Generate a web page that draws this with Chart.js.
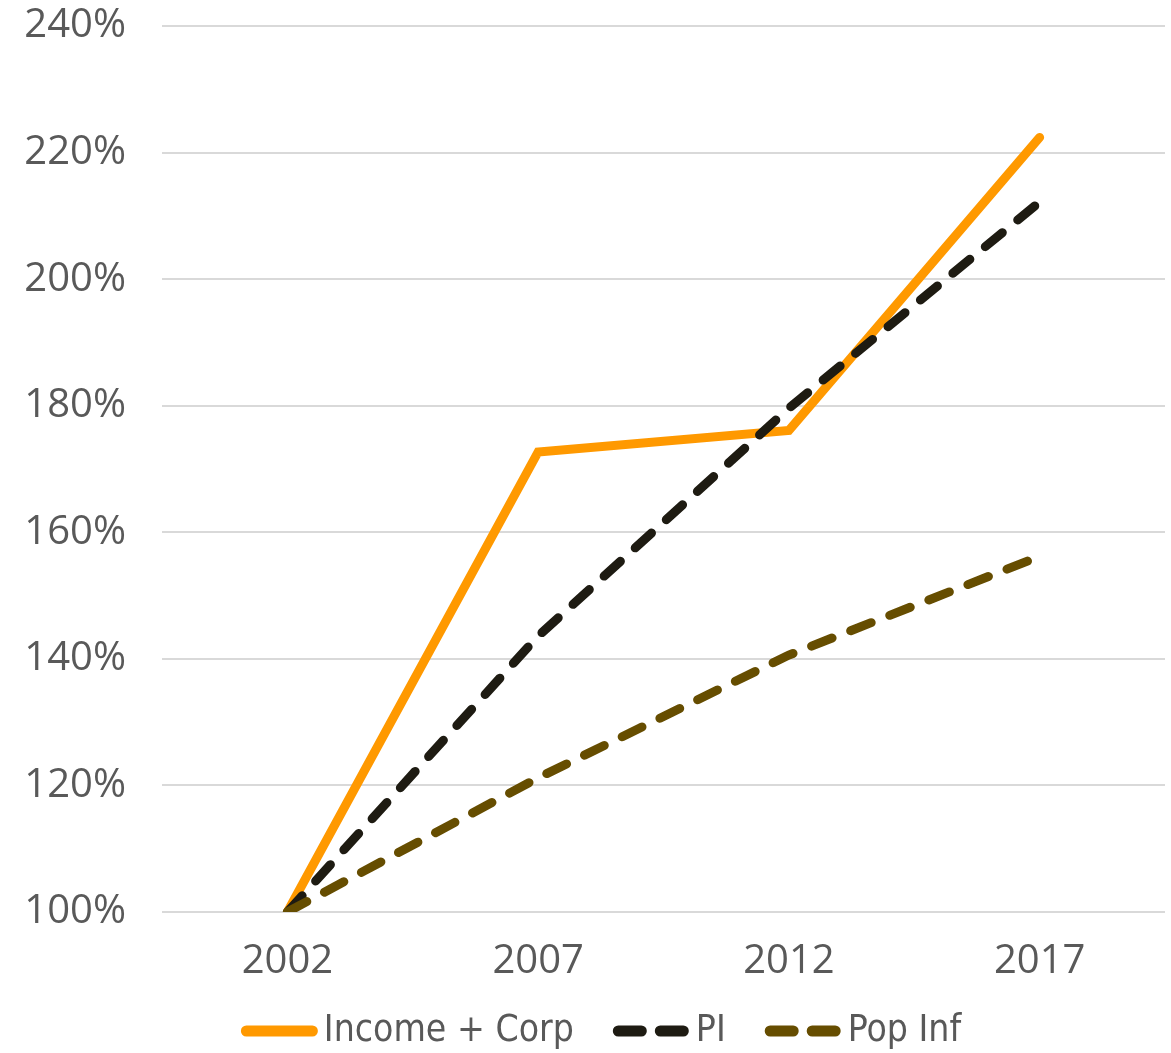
<!DOCTYPE html>
<html>
<head>
<meta charset="utf-8">
<style>
  html, body { margin: 0; padding: 0; background: #ffffff; }
  #wrap { width: 1171px; height: 1053px; position: relative; }
</style>
<script src="https://cdn.jsdelivr.net/npm/chart.js@4/dist/chart.umd.min.js"></script>
</head>
<body>
<div id="wrap"><canvas id="chart" width="1171" height="1053"></canvas></div>
<script>
// Growth indexed to 2002 = 100%
const years = ['2002', '2007', '2012', '2017'];
const incomeCorp = [100, 172.7, 176.1, 222.4];
const personalIncome = [100, 143.6, 179.6, 212.2];
const popInflation = [100, 121.2, 140.6, 156.2];
const yTicks = [100, 120, 140, 160, 180, 200, 220, 240];

const TEXT = '#595959';
const TICK_FONT = { family: "'Open Sans', 'DejaVu Sans', sans-serif", size: 40, lineHeight: 1.2 };
const LEGEND_FONT = "37px 'DejaVu Sans Condensed', 'Liberation Sans Narrow', sans-serif";

// Legend drawn below the axis: line sample directly followed by its label
const lineLegend = {
  id: 'lineLegend',
  afterDraw(chart) {
    const ctx = chart.ctx;
    const sample = 66, cap = 5.5, textGap = 6, itemGap = 39;
    ctx.save();
    ctx.font = LEGEND_FONT;
    const items = chart.data.datasets.map(ds => ({
      ds, w: sample + 2 * cap + textGap + ctx.measureText(ds.label).width
    }));
    const total = items.reduce((s, it) => s + it.w, 0) + itemGap * (items.length - 1);
    let x = 601 - total / 2;
    const y = 1031;
    items.forEach(({ ds, w }) => {
      ctx.beginPath();
      ctx.lineWidth = 11;
      ctx.lineCap = 'round';
      ctx.strokeStyle = ds.borderColor;
      ctx.setLineDash(ds.borderDash && ds.borderDash.length ? [23, 19] : []);
      ctx.moveTo(x + cap, y);
      ctx.lineTo(x + cap + sample, y);
      ctx.stroke();
      ctx.setLineDash([]);
      ctx.fillStyle = TEXT;
      ctx.textBaseline = 'middle';
      ctx.textAlign = 'left';
      ctx.fillText(ds.label, x + sample + 2 * cap + textGap, y);
      x += w + itemGap;
    });
    ctx.restore();
  }
};

new Chart(document.getElementById('chart'), {
  type: 'line',
  data: {
    labels: years,
    datasets: [
      {
        label: 'Income + Corp',
        data: incomeCorp,
        borderColor: '#FF9900',
        borderWidth: 9,
        borderCapStyle: 'round',
        borderJoinStyle: 'miter',
        pointRadius: 0,
        tension: 0,
        order: 3
      },
      {
        label: 'PI',
        data: personalIncome,
        borderColor: '#1E1B12',
        borderWidth: 9,
        borderDash: [22, 20],
        borderCapStyle: 'round',
        pointRadius: 0,
        tension: 0,
        order: 2
      },
      {
        label: 'Pop Inf',
        data: popInflation,
        borderColor: '#664D00',
        borderWidth: 9,
        borderDash: [22, 20],
        borderCapStyle: 'round',
        pointRadius: 0,
        tension: 0,
        order: 1
      }
    ]
  },
  options: {
    responsive: false,
    animation: false,
    devicePixelRatio: 1,
    layout: { padding: { top: 26, right: 6, bottom: 67, left: 0 } },
    plugins: {
      legend: { display: false },
      tooltip: { enabled: false }
    },
    scales: {
      x: {
        offset: true,
        afterFit(scale) { scale.height = 74; },
        grid: { display: false, drawTicks: false },
        border: { display: false },
        ticks: { color: TEXT, font: TICK_FONT, padding: 26, maxRotation: 0 }
      },
      y: {
        min: 100,
        max: 240,
        afterFit(scale) {
          scale.width = 162;
          scale.paddingTop = 0;
          scale.paddingBottom = 0;
        },
        afterBuildTicks(scale) { scale.ticks = yTicks.map(v => ({ value: v })); },
        grid: { color: '#D9D9D9', lineWidth: 2, drawTicks: false },
        border: { display: false },
        ticks: {
          color: TEXT,
          font: TICK_FONT,
          padding: 36,
          callback: v => v + '%'
        }
      }
    }
  },
  plugins: [lineLegend]
});
</script>
</body>
</html>
